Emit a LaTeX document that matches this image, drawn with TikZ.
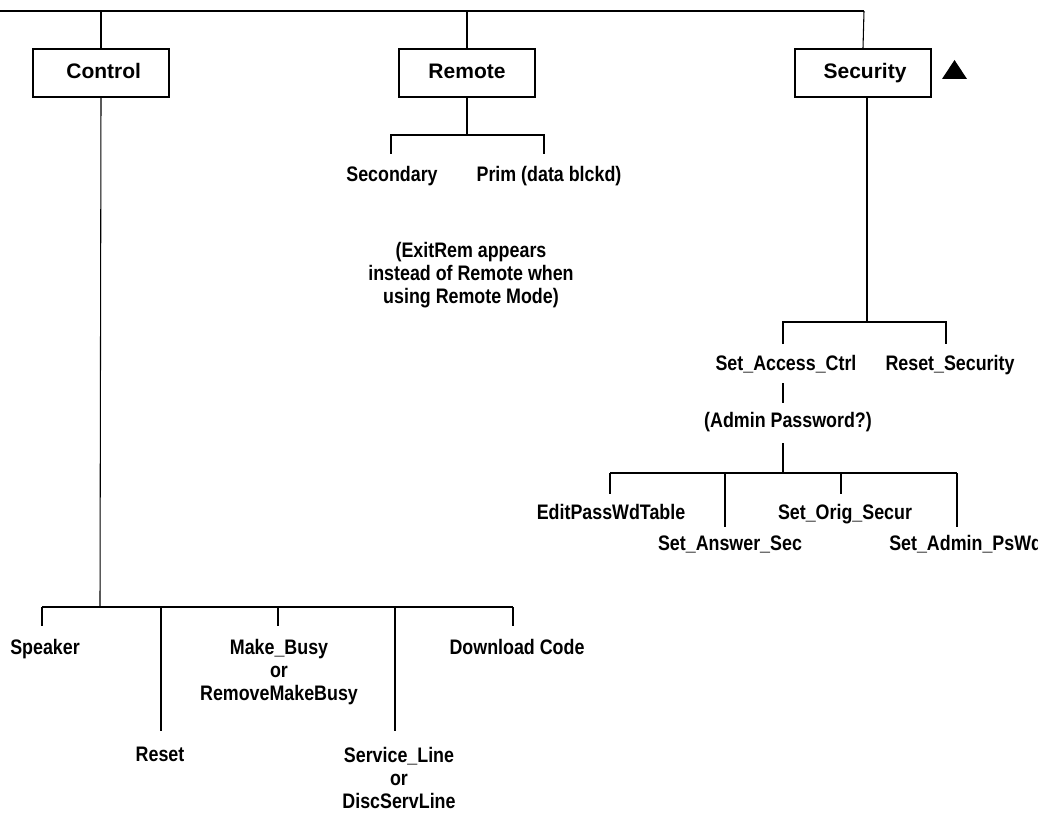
\documentclass[tikz,border=0pt]{standalone}
\usepackage{fontspec}
\setmainfont{Liberation Sans}
\newfontfamily\narrowfont[FakeStretch=0.85]{Liberation Sans}
\begin{document}
\begin{tikzpicture}[x=0.75pt,y=-0.75pt,
  conn/.style={line width=0.8pt},
  menubox/.style={draw, line width=1.6pt, minimum width=102pt, minimum height=36pt, inner sep=0pt,
    text height=11.3pt, text depth=3.3pt,
    font=\bfseries\fontsize{15.75}{18}\selectfont},
  lbl/.style={inner sep=0pt, align=center, font=\narrowfont\bfseries\fontsize{15.75}{17.25}\selectfont},
  oneline/.style={lbl, text height=11.3pt, text depth=3.3pt}]
\useasboundingbox (0,0) rectangle (1038,813);

% top level
\coordinate (t0) at (0,11);
\coordinate (t1) at (864,11);
\draw[conn] (t0) -- (t1);
\node[menubox] (ctrl) at (101,73) {\hspace*{4pt}Control};
\node[menubox] (rem) at (467,73) {Remote};
\node[menubox] (sec) at (863,73) {\hspace*{3pt}Security};
\draw[conn] (ctrl.north) -- (ctrl.north |- t0);
\draw[conn] (rem.north) -- (rem.north |- t0);
\draw[conn] (sec.north) -- (t1);
\fill (942,79) -- (967,79) -- (954.5,60) -- cycle;

% Remote subtree
\coordinate (rj) at (467,135);
\coordinate (rl) at (391,135);
\coordinate (rr) at (544,135);
\coordinate (rle) at (391,154);
\coordinate (rre) at (544,154);
\draw[conn] (rem.south) -- (rj);
\draw[conn] (rle) -- (rl) -- (rr) -- (rre);
\node[oneline] (secd) at (392,176) {Secondary};
\node[oneline] (prim) at (549,176) {Prim (data blckd)};
\node[lbl] (note) at (471,275) {(ExitRem appears\\instead of Remote when\\using Remote Mode)};

% Control subtree
\coordinate (cj) at (100,607);
\coordinate (c1) at (42,607);
\coordinate (c2) at (161,607);
\coordinate (c3) at (278,607);
\coordinate (c4) at (395,607);
\coordinate (c5) at (513,607);
\coordinate (c1e) at (42,626);
\coordinate (c2e) at (161,731);
\coordinate (c3e) at (278,626);
\coordinate (c4e) at (395,731);
\coordinate (c5e) at (513,626);
\draw[conn] (ctrl.south) -- (cj);
\draw[conn] (c1) -- (c5);
\foreach \i in {1,...,5} { \draw[conn] (c\i) -- (c\i e); }
\node[oneline] (spk) at (45,649) {Speaker};
\node[lbl] (mkb) at (279,672) {Make\_Busy\\or\\RemoveMakeBusy};
\node[oneline] (dlc) at (517,649) {Download Code};
\node[oneline] (rst) at (160,756) {Reset};
\node[lbl] (svl) at (399,778) {Service\_Line\\or\\DiscServLine};

% Security subtree
\coordinate (sj) at (867,322);
\coordinate (s1) at (783,322);
\coordinate (s2) at (946,322);
\coordinate (s1e) at (783,344);
\coordinate (s2e) at (946,344);
\draw[conn] ([xshift=3pt]sec.south) -- (sj);
\draw[conn] (s1e) -- (s1) -- (s2) -- (s2e);
\node[oneline] (sac) at (786,365) {Set\_Access\_Ctrl};
\node[oneline] (rsec) at (950,365) {Reset\_Security};
\coordinate (a0) at (783,383);
\coordinate (a1) at (783,403);
\draw[conn] (a0) -- (a1);
\node[oneline] (adm) at (788,422) {(Admin Password?)};
\coordinate (b0) at (783,443);
\coordinate (bj) at (783,473);
\draw[conn] (b0) -- (bj);
\coordinate (d1) at (610,473);
\coordinate (d2) at (725,473);
\coordinate (d3) at (841,473);
\coordinate (d4) at (957,473);
\coordinate (d1e) at (610,494);
\coordinate (d2e) at (725,527);
\coordinate (d3e) at (841,494);
\coordinate (d4e) at (957,527);
\draw[conn] (d1) -- (d4);
\foreach \i in {1,...,4} { \draw[conn] (d\i) -- (d\i e); }
\node[oneline] (ept) at (611,514) {EditPassWdTable};
\node[oneline] (sos) at (845,514) {Set\_Orig\_Secur};
\node[oneline] (sas) at (730,545) {Set\_Answer\_Sec};
\node[oneline, anchor=west] (sap) at (889,545) {Set\_Admin\_PsWd};
\end{tikzpicture}
\end{document}
